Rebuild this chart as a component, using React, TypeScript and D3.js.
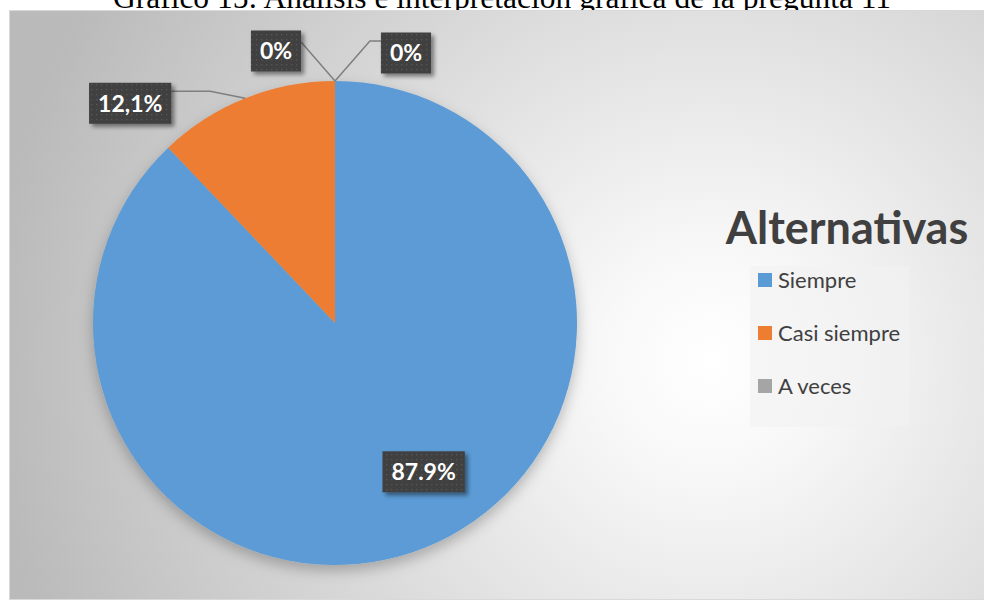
import { useEffect, useRef } from "react";
import * as d3 from "d3";

const W = 984;
const H = 601;
const TITLE = "Gráfico 15: Análisis e interpretación gráfica de la pregunta 11";
const LEGEND_TITLE = "Alternativas";

const categories = ["Siempre", "Casi siempre", "A veces", "Nunca"];
const values = [87.9, 12.1, 0, 0];
const labels = ["87.9%", "12,1%", "0%", "0%"];
const colors = ["#5B9BD5", "#ED7D31", "#A5A5A5", "#FFC000"];
const legendCount = 3;

const CX = 335;
const CY = 323;
const R = 242;

// label layout (offsets from the slice anchor on the rim); first one sits inside
const LABEL_OFFSETS: [number, number][] = [
  [0, 0],
  [-115, 5],
  [-59, -30],
  [71, -28],
];

export default function App() {
  const ref = useRef<SVGSVGElement>(null);

  useEffect(() => {
    const svg = d3.select(ref.current);
    svg.selectAll("*").remove();

    const defs = svg.append("defs");
    const grad = defs
      .append("radialGradient")
      .attr("id", "bg")
      .attr("gradientUnits", "userSpaceOnUse")
      .attr("cx", 710)
      .attr("cy", 360)
      .attr("r", 720);
    grad.append("stop").attr("offset", "0").attr("stop-color", "#ffffff");
    grad.append("stop").attr("offset", "0.15").attr("stop-color", "#f8f8f8");
    grad.append("stop").attr("offset", "1").attr("stop-color", "#bababa");

    const pieShadow = defs.append("filter").attr("id", "pieShadow").attr("x", "-20%").attr("y", "-20%").attr("width", "140%").attr("height", "140%");
    pieShadow
      .append("feDropShadow")
      .attr("dx", 0)
      .attr("dy", 6)
      .attr("stdDeviation", 7)
      .attr("flood-color", "#000")
      .attr("flood-opacity", 0.25);

    const boxShadow = defs.append("filter").attr("id", "boxShadow").attr("x", "-20%").attr("y", "-20%").attr("width", "150%").attr("height", "150%");
    boxShadow
      .append("feDropShadow")
      .attr("dx", 3)
      .attr("dy", 3)
      .attr("stdDeviation", 2)
      .attr("flood-color", "#000")
      .attr("flood-opacity", 0.45);

    const pat = defs
      .append("pattern")
      .attr("id", "dots")
      .attr("patternUnits", "userSpaceOnUse")
      .attr("width", 5)
      .attr("height", 5);
    pat.append("rect").attr("width", 5).attr("height", 5).attr("fill", "#404040");
    pat.append("rect").attr("x", 1).attr("y", 1).attr("width", 1.3).attr("height", 1.3).attr("fill", "#575757");

    // title (partly hidden behind the chart area, as in the source)
    svg
      .append("text")
      .attr("x", 502)
      .attr("y", 8)
      .attr("text-anchor", "middle")
      .attr("font-family", "'Liberation Serif', 'Times New Roman', serif")
      .attr("font-size", 31.5)
      .attr("fill", "#000")
      .text(TITLE);

    svg
      .append("rect")
      .attr("x", 9.5)
      .attr("y", 10.5)
      .attr("width", W)
      .attr("height", 589)
      .attr("fill", "url(#bg)")
      .attr("stroke", "#d9d9d9");

    const pie = d3
      .pie<number>()
      .sort(null)
      .value((d) => d)
      .startAngle(0)
      .endAngle(2 * Math.PI);
    const arcs = pie(values);
    const arc = d3.arc<d3.PieArcDatum<number>>().innerRadius(0).outerRadius(R);
    const rim = d3.arc<d3.PieArcDatum<number>>().innerRadius(R).outerRadius(R);
    const inner = d3.arc<d3.PieArcDatum<number>>().innerRadius(R * 0.72).outerRadius(R * 0.72);

    const g = svg.append("g").attr("transform", `translate(${CX},${CY})`);
    g.append("g")
      .attr("filter", "url(#pieShadow)")
      .selectAll("path")
      .data(arcs)
      .join("path")
      .attr("d", arc)
      .attr("fill", (_, i) => colors[i]);

    const lines = g.append("g");
    const lab = g.append("g");

    arcs.forEach((a, i) => {
      let cx: number, cy: number;
      const [ax, ay] = rim.centroid(a);
      if (i === 0) {
        const [ix, iy] = inner.centroid(a);
        cx = ix + 24;
        cy = iy - 13;
      } else {
        cx = ax + LABEL_OFFSETS[i][0];
        cy = ay + LABEL_OFFSETS[i][1];
      }
      const lg = lab.append("g");
      const t = lg
        .append("text")
        .attr("x", cx)
        .attr("y", cy)
        .attr("dy", "0.36em")
        .attr("text-anchor", "middle")
        .attr("font-family", "Lato, 'Open Sans', sans-serif")
        .attr("font-weight", "bold")
        .attr("font-size", 23)
        .attr("fill", "#ffffff")
        .text(labels[i]);
      const tw = (t.node() as SVGTextElement).getComputedTextLength();
      const bw = tw + 18;
      const bh = 41;
      lg.insert("rect", "text")
        .attr("x", cx - bw / 2)
        .attr("y", cy - bh / 2)
        .attr("width", bw)
        .attr("height", bh)
        .attr("fill", "url(#dots)")
        .attr("filter", "url(#boxShadow)");

      if (i > 0) {
        let pts: [number, number][];
        if (i === 1) {
          pts = [
            [cx + bw / 2, ay - 7],
            [ax - 35, ay - 7],
            [ax, ay],
          ];
        } else if (i === 2) {
          pts = [
            [cx + bw / 2, cy - 9],
            [ax, ay],
          ];
        } else {
          pts = [
            [cx - bw / 2, cy - 12],
            [cx - bw / 2 - 11, cy - 12],
            [ax, ay],
          ];
        }
        lines
          .append("path")
          .attr("d", d3.line()(pts))
          .attr("fill", "none")
          .attr("stroke", "#7f7f7f")
          .attr("stroke-width", 1.5);
      }
    });

    // legend
    svg
      .append("text")
      .attr("x", 847)
      .attr("y", 244)
      .attr("text-anchor", "middle")
      .attr("font-family", "Lato, 'Open Sans', sans-serif")
      .attr("font-weight", "bold")
      .attr("font-size", 45)
      .attr("fill", "#404040")
      .text(LEGEND_TITLE);

    svg
      .append("rect")
      .attr("x", 750)
      .attr("y", 266)
      .attr("width", 160)
      .attr("height", 161)
      .attr("fill", "#f2f2f2")
      .attr("opacity", 0.6);

    const ly = d3
      .scalePoint<string>()
      .domain(categories.slice(0, legendCount))
      .range([280, 386]);

    const items = svg
      .append("g")
      .selectAll("g")
      .data(categories.slice(0, legendCount))
      .join("g")
      .attr("transform", (d) => `translate(758,${ly(d)})`);
    items
      .append("rect")
      .attr("x", 0)
      .attr("y", -7)
      .attr("width", 14)
      .attr("height", 14)
      .attr("fill", (_, i) => colors[i]);
    items
      .append("text")
      .attr("x", 20)
      .attr("dy", "0.36em")
      .attr("font-family", "Lato, 'Open Sans', sans-serif")
      .attr("font-size", 22)
      .attr("fill", "#404040")
      .text((d) => d);
  }, []);

  return (
    <svg
      ref={ref}
      width={W}
      height={H}
      style={{ position: "absolute", left: 0, top: 0, display: "block" }}
    />
  );
}
